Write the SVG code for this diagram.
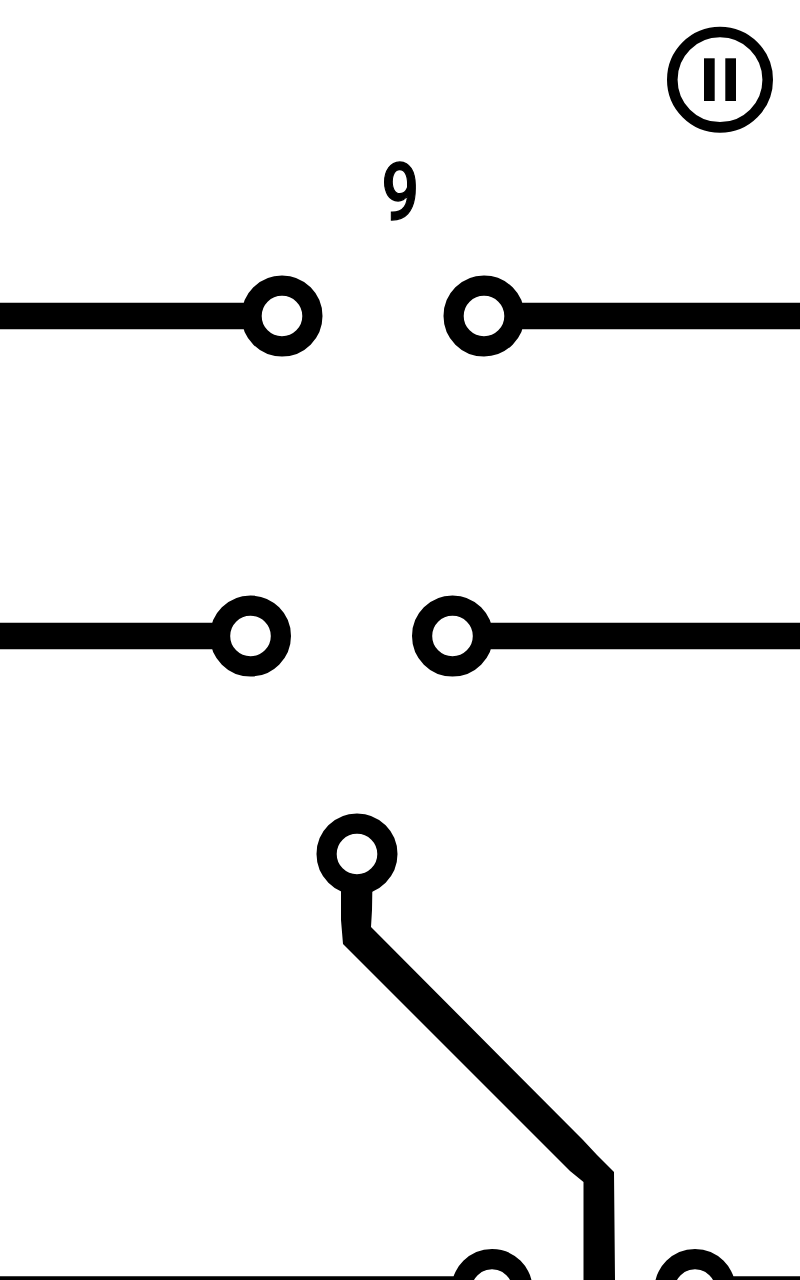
<svg xmlns="http://www.w3.org/2000/svg" width="800" height="1280" viewBox="0 0 800 1280">
  <style>
    .ring { fill: #fff; stroke: #000; stroke-width: 20.2; }
    .wire { stroke: #000; stroke-width: 26.5; fill: none; }
    .score { font-family: "Roboto", "Liberation Sans", sans-serif; font-weight: 500; font-size: 79px; fill: #000; stroke: #000; stroke-width: 1.3; text-anchor: middle; }
  </style>
  <rect width="800" height="1280" fill="#fff"/>
  <g id="connectors">
    <line class="wire" x1="0" y1="316" x2="270" y2="316"/>
    <line class="wire" x1="495" y1="316" x2="800" y2="316"/>
    <line class="wire" x1="0" y1="636" x2="238" y2="636"/>
    <line class="wire" x1="463" y1="636" x2="800" y2="636"/>
    <line class="wire" x1="0" y1="1289.5" x2="480" y2="1289.5"/>
    <line class="wire" x1="705" y1="1289.5" x2="800" y2="1289.5"/>
    <polygon fill="#000" points="341,880 372.500,880 372,910 371,927 583,1140 597,1155 614,1172 615,1280 583.500,1280 583.500,1182 570,1171 343,944 341,920"/>
  </g>
  <g id="node-row1-left"><circle class="ring" cx="282" cy="316" r="30.400"/></g>
  <g id="node-row1-right"><circle class="ring" cx="484" cy="316" r="30.400"/></g>
  <g id="node-row2-left"><circle class="ring" cx="250.500" cy="636" r="30.400"/></g>
  <g id="node-row2-right"><circle class="ring" cx="452.500" cy="636" r="30.400"/></g>
  <g id="node-row3"><circle class="ring" cx="357" cy="854" r="30.400"/></g>
  <g id="node-bottom-left"><circle class="ring" cx="492" cy="1289.500" r="30.400"/></g>
  <g id="node-bottom-right"><circle class="ring" cx="695" cy="1289.500" r="30.400"/></g>
  <g id="pause-button">
    <circle cx="720" cy="79.700" r="47.700" fill="#fff" stroke="#000" stroke-width="10.600"/>
    <rect x="704" y="58.300" width="10.700" height="42.700" fill="#000"/>
    <rect x="725.300" y="58.300" width="10.700" height="42.700" fill="#000"/>
  </g>
  <g id="score"><text class="score" transform="translate(400.300 219.500) scale(0.84 1)">9</text></g>
</svg>
